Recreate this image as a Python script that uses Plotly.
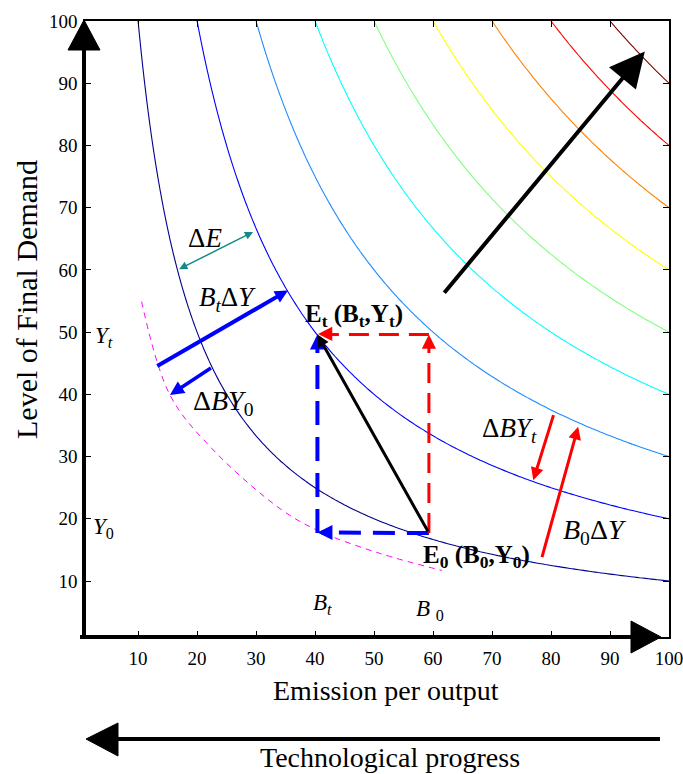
import numpy as np
import plotly.graph_objects as go

# ---------------- data ----------------
B_grid = list(range(1, 101))          # emission per output
Y_grid = list(range(1, 101))          # level of final demand
levels = [1000, 2000, 3000, 4000, 5000, 6000, 7000, 8000, 9000]
level_colors = ["#00008f", "#0000ff", "#1e8cff", "#00ffff", "#80ff80",
                "#ffff00", "#ff8000", "#ff0000", "#800000"]
x_ticks = [10, 20, 30, 40, 50, 60, 70, 80, 90, 100]
y_ticks = [10, 20, 30, 40, 50, 60, 70, 80, 90, 100]

magenta_B = [10.6, 15.4, 22.5, 34.1, 40.5, 51.1, 61.5]
magenta_Y = [54.9, 39.9, 31.3, 21.6, 18.1, 14.4, 11.7]

B0, Y0 = 59.3, 17.7
Bt, Yt = 40.4, 49.6

# ---------------- layout constants ----------------
FW, FH = 683, 774
L, T, W, H = 85, 21, 584, 616
R = FW - L - W
Bm = FH - T - H
SERIF = "Liberation Serif, Times New Roman, serif"


def P(px, py):
    return (px - L) / W, (T + H - py) / H


fig = go.Figure()

Z = np.outer(np.array(Y_grid, float), np.array(B_grid, float))
cs = [[(lv - levels[0]) / (levels[-1] - levels[0]), c] for lv, c in zip(levels, level_colors)]
fig.add_trace(go.Contour(
    x=B_grid, y=Y_grid, z=Z,
    contours=dict(start=levels[0], end=levels[-1], size=levels[1] - levels[0], coloring="lines"),
    colorscale=cs, zmin=levels[0], zmax=levels[-1], zauto=False,
    line=dict(width=1.1), showscale=False, hoverinfo="skip"))

# magenta dashed curve
fig.add_trace(go.Scatter(x=magenta_B, y=magenta_Y, mode="lines",
                         line=dict(color="#ff00ff", width=1, dash="6px,5px", shape="spline"),
                         hoverinfo="skip", showlegend=False))

# dashed decomposition paths
fig.add_trace(go.Scatter(x=[B0, Bt + 1.2], y=[Y0, Y0 + 0.1], mode="lines",
                         line=dict(color="#0000ff", width=4, dash="22px,12px"),
                         hoverinfo="skip", showlegend=False))
fig.add_trace(go.Scatter(x=[Bt, Bt], y=[Y0, Yt - 1.5], mode="lines",
                         line=dict(color="#0000ff", width=4, dash="24px,12px"),
                         hoverinfo="skip", showlegend=False))
fig.add_trace(go.Scatter(x=[B0, B0], y=[Y0, Yt - 1.5], mode="lines",
                         line=dict(color="#ff0000", width=3, dash="20px,10px"),
                         hoverinfo="skip", showlegend=False))
fig.add_trace(go.Scatter(x=[B0, Bt + 1.5], y=[Yt, Yt], mode="lines",
                         line=dict(color="#ff0000", width=3, dash="20px,10px"),
                         hoverinfo="skip", showlegend=False))


def arrow(x0, y0, x1, y1, color, width, size, both=False):
    d = dict(x=x1, y=y1, ax=x0, ay=y0, xref="x", yref="y", axref="x", ayref="y",
             showarrow=True, arrowhead=2, arrowsize=size, arrowwidth=width,
             arrowcolor=color, text="", standoff=0)
    if both:
        d.update(arrowside="end+start", startarrowhead=2, startarrowsize=size, startstandoff=0)
    fig.add_annotation(**d)


def head(x, y, dx, dy, color, width, size):
    fig.add_annotation(x=x, y=y, ax=dx, ay=dy, xref="x", yref="y",
                       showarrow=True, arrowhead=2, arrowsize=size, arrowwidth=width,
                       arrowcolor=color, text="", standoff=0)


# arrow heads of dashed paths
head(Bt, Yt, 0, 14, "#0000ff", 4, 0.75)
head(Bt, Y0 + 0.1, 14, 0, "#0000ff", 4, 0.75)
head(B0, Yt, 0, 14, "#ff0000", 3, 0.95)
head(Bt + 0.1, Yt + 0.1, 14, 0, "#ff0000", 3, 0.95)

# solid arrows
arrow(B0, Y0, Bt, Yt, "#000000", 3, 0.8)
arrow(16.7, 60.0, 29.5, 66.1, "#138a8a", 1.5, 1.1, both=True)
arrow(13.0, 44.4, 35.4, 56.7, "#0000ff", 4, 0.65)
arrow(22.6, 44.4, 15.4, 39.9, "#0000ff", 3.5, 0.8)
arrow(80.5, 36.9, 77.0, 26.2, "#ff0000", 3, 0.85)
arrow(78.4, 13.6, 84.6, 34.8, "#ff0000", 3, 0.85)
arrow(61.7, 56.1, 95.9, 95.1, "#000000", 4, 1.75)


def label(x, y, txt, size=24):
    fig.add_annotation(x=x, y=y, xref="x", yref="y", text=txt, showarrow=False,
                       xanchor="center", yanchor="middle",
                       font=dict(family=SERIF, size=size, color="black"))


label(21.3, 65.1, "Δ<i>E</i>", 27)
label(25.1, 55.3, "<i>B</i><sub><i>t</i></sub>Δ<i>Y</i>", 27)
label(46.6, 52.6, "<b>E<sub>t</sub> (B<sub>t</sub>,Y<sub>t</sub>)</b>", 25)
label(24.4, 38.7, "Δ<i>BY</i><sub>0</sub>", 28)
label(73.0, 34.2, "Δ<i>BY<sub>t</sub></i>", 27)
label(87.4, 18.0, "<i>B</i><sub>0</sub>Δ<i>Y</i>", 28)
label(67.3, 14.0, "<b>E<sub>0</sub> (B<sub>0</sub>,Y<sub>0</sub>)</b>", 25)
label(4.2, 49.2, "<i>Y<sub>t</sub></i>", 23)
label(4.2, 18.5, "<i>Y</i><sub>0</sub>", 23)
label(41.2, 6.3, "<i>B<sub>t</sub></i>", 23)
label(59.5, 5.4, "<i>B</i> <sub>0</sub>", 23)


def ptext(px, py, txt, size, angle=0):
    fx, fy = P(px, py)
    fig.add_annotation(x=fx, y=fy, xref="paper", yref="paper", text=txt,
                       xanchor="center", yanchor="middle", textangle=angle,
                       showarrow=False, font=dict(family=SERIF, size=size, color="black"))


ptext(386, 690, "Emission per output", 28)
ptext(390, 757, "Technological progress", 28)
ptext(26, 300, "Level of Final Demand", 30, angle=-90)

# thick axis lines and arrow heads
shapes = []


def seg(p0, p1, w):
    a, b = P(*p0), P(*p1)
    shapes.append(dict(type="line", xref="paper", yref="paper", x0=a[0], y0=a[1],
                       x1=b[0], y1=b[1], line=dict(color="black", width=w), layer="above"))


def tri(p0, p1, p2):
    pts = [P(*p) for p in (p0, p1, p2)]
    path = "M{},{} L{},{} L{},{} Z".format(pts[0][0], pts[0][1], pts[1][0], pts[1][1], pts[2][0], pts[2][1])
    shapes.append(dict(type="path", xref="paper", yref="paper", path=path,
                       fillcolor="black", line=dict(color="black", width=1), layer="above"))


seg((84, 639), (84, 48), 4)
tri((84, 20), (68, 50), (100, 50))
seg((80, 637), (633, 637), 4)
tri((661, 637), (631, 621), (631, 653))
seg((660, 739), (116, 739), 4)
tri((86, 739), (118, 723), (118, 756))

fig.update_layout(
    width=FW, height=FH, margin=dict(l=L, r=R, t=T, b=Bm, pad=0, autoexpand=False),
    paper_bgcolor="white", plot_bgcolor="white", showlegend=False,
    shapes=shapes,
    xaxis=dict(range=[1, 100], tickvals=x_ticks, ticktext=[str(v) for v in x_ticks],
               ticks="inside", ticklen=6, tickwidth=1, tickcolor="black",
               showline=True, linewidth=1.5, linecolor="black", mirror="ticks",
               showgrid=False, zeroline=False, ticklabelstandoff=3,
               ticklabeloverflow="allow", automargin=False,
               tickfont=dict(family=SERIF, size=19, color="black")),
    yaxis=dict(range=[1, 100], tickvals=y_ticks, ticktext=[str(v) for v in y_ticks],
               ticks="inside", ticklen=6, tickwidth=1, tickcolor="black",
               showline=True, linewidth=1.5, linecolor="black", mirror="ticks",
               showgrid=False, zeroline=False, ticklabelstandoff=2,
               ticklabeloverflow="allow", automargin=False,
               tickfont=dict(family=SERIF, size=19, color="black")),
)

fig.write_html("out.html", config={"displayModeBar": False},
               post_script="document.body.style.margin='0px';")
